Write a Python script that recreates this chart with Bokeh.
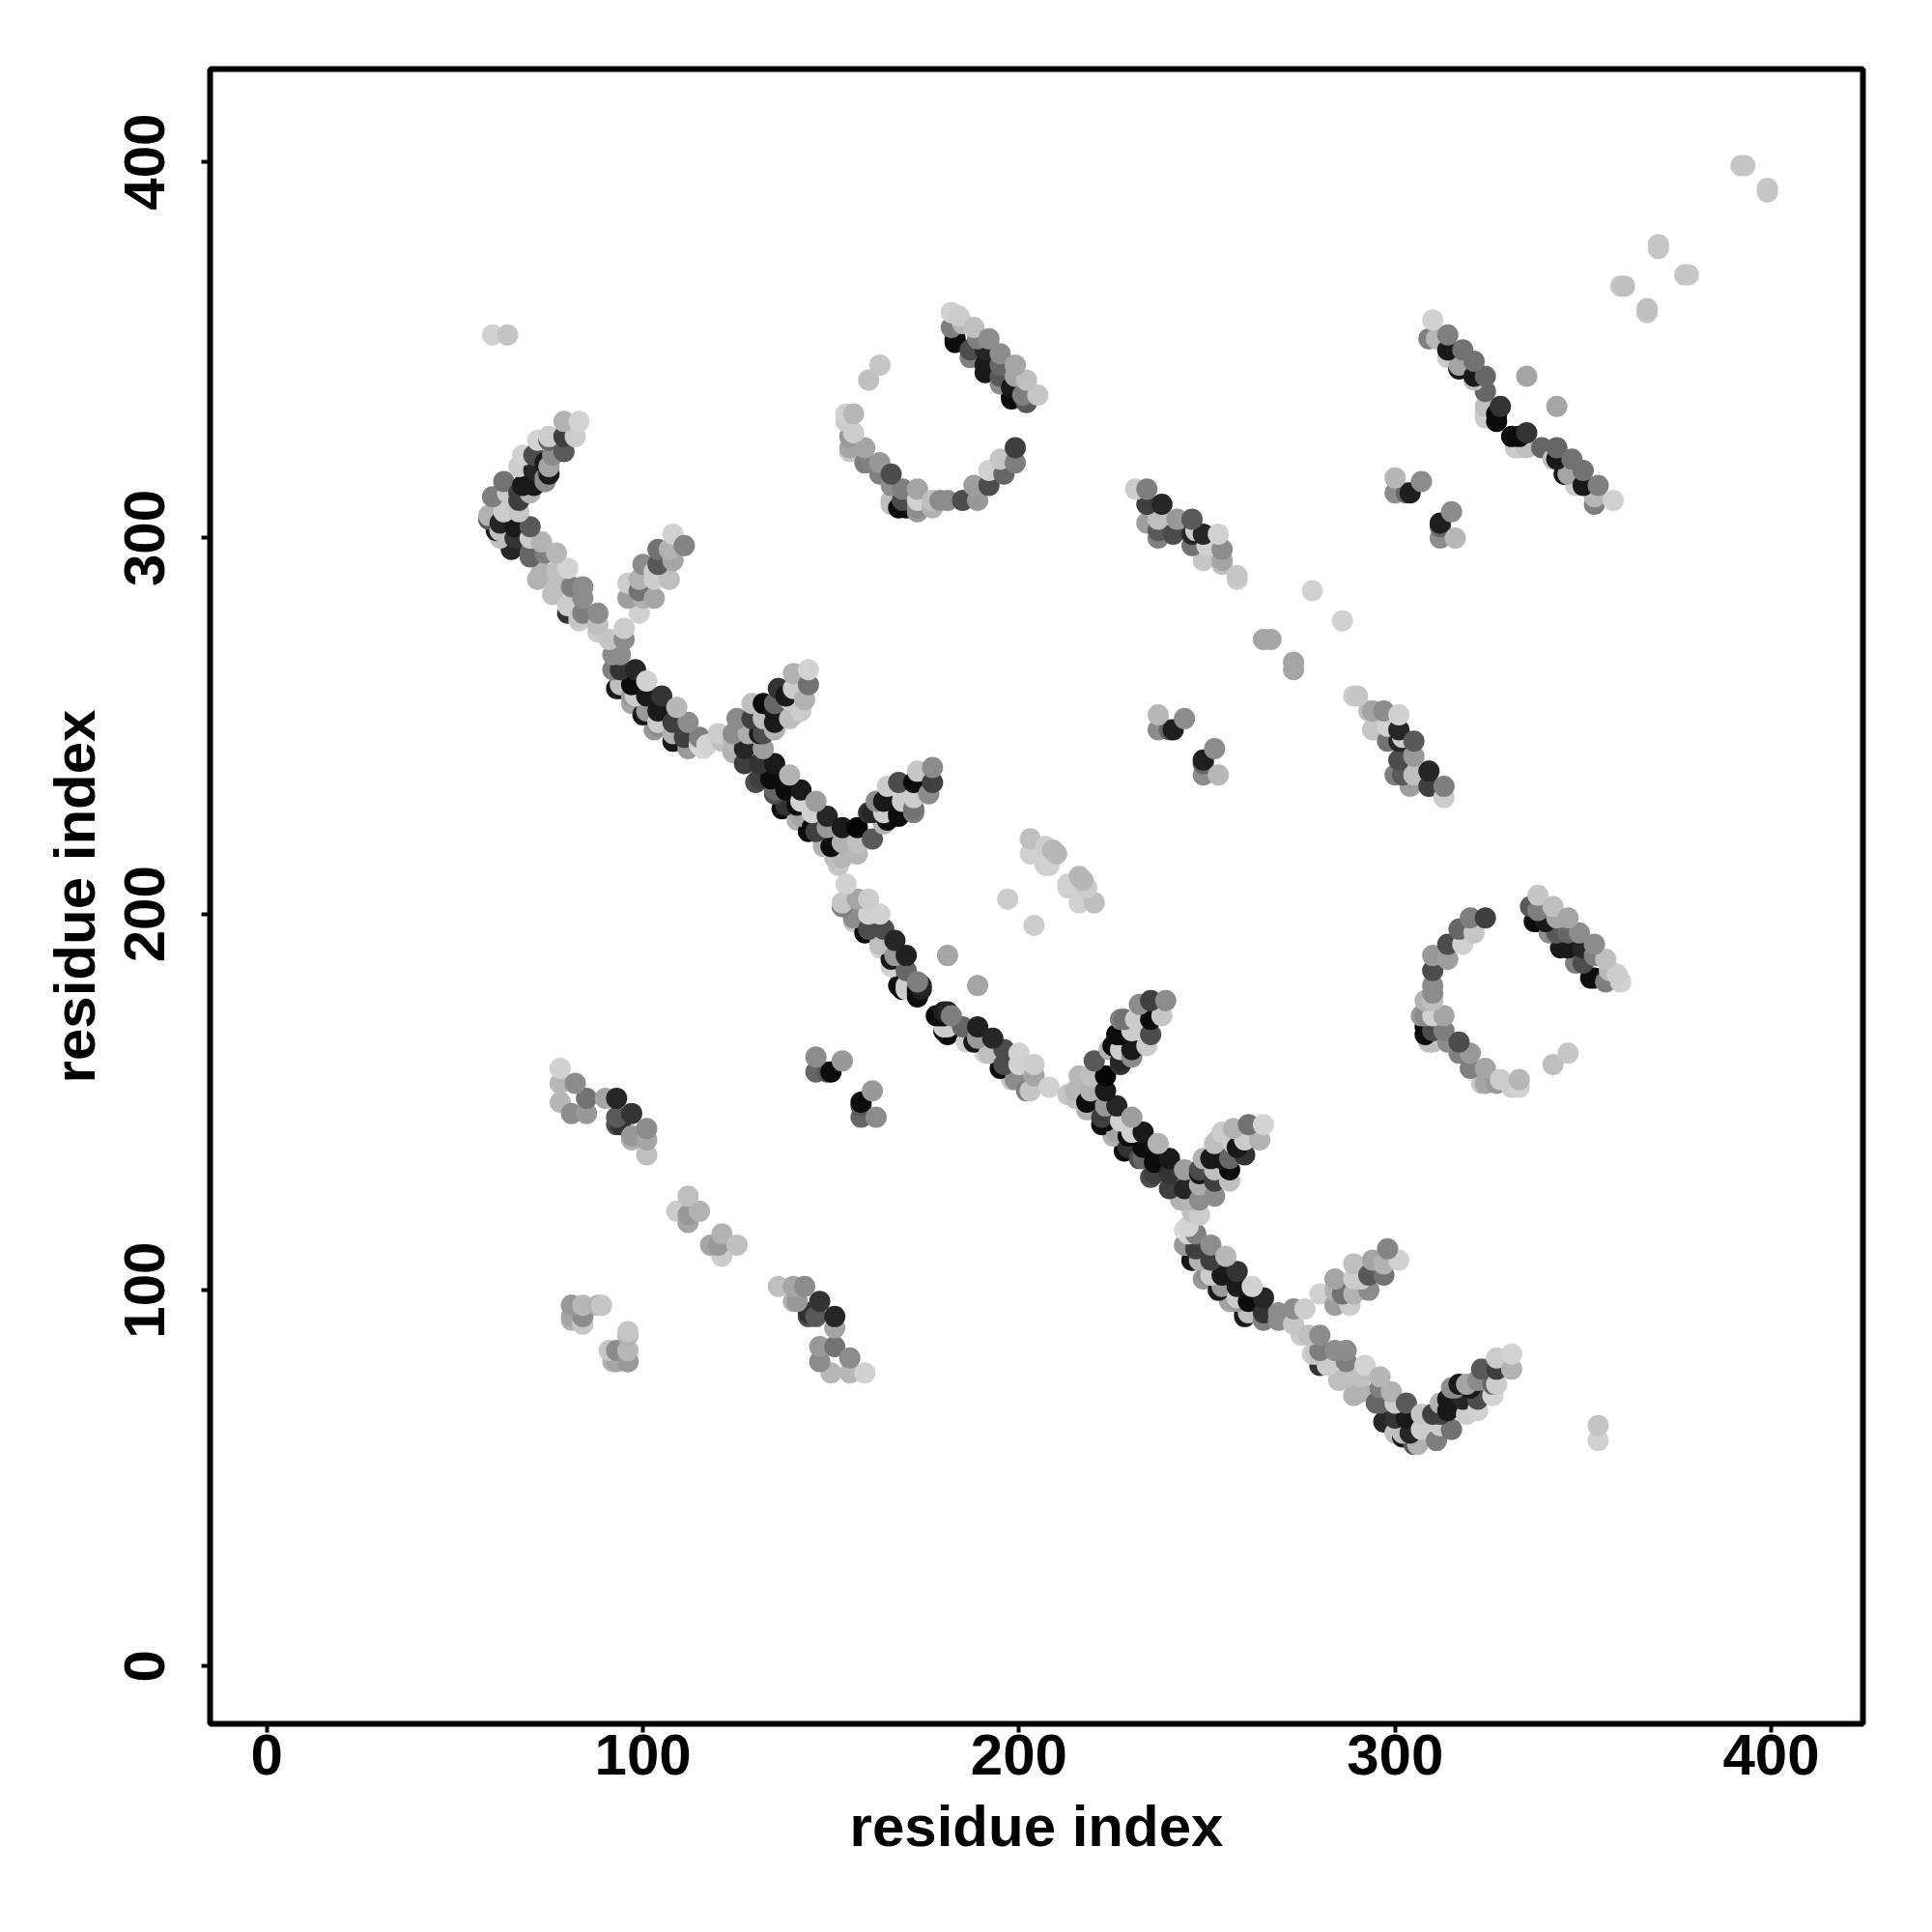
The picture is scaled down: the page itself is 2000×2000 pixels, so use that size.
from bokeh.plotting import figure
from bokeh.models import ColumnDataSource, Range1d, FixedTicker
from bokeh.embed import file_html
from bokeh.resources import INLINE
import numpy as np

# contacts as (residue i, residue j, gray level); the map is symmetric
isolated = [(60,354,.82),(64,354,.77),(181,189,.65),(197,204,.8),(278,286,.82),(265,273,.65),(267,273,.65),
            (335,343,.65),(360,367,.78),(361,367,.75),(370,378,.78),(370,377,.78),(392,399,.78),(393,399,.78),(163,346,.78),(160,342,.75)]
branch_a = [(83,331,.83),(79,331,.7),(82,327,.8),(79,327,.25),(79,323,.35),(75,326,.4),(72,326,.83),(75,327,.8),(76,322,.55),
            (74,320,.1),(71,322,.3),(68,322,.82),(75,319,.65),(75,317,.1),(74,316,.55),(71,318,.15),(71,315,.1),(67,319,.8),
            (70,312,.7),(68,314,.1),(67,312,.25),(63,315,.45),(64,312,.8),(60,311,.5),(67,307,.78),(63,307,.8),(59,306,.7),(59,305,.35)]
strand_a = [(70,303,.35),(66,303,.1),(66,300,.2),(62,302,.75),(62,304,.15),(70,300,.8),(70,296,.4),(73,299,.7),(74,296,.5),
            (77,296,.72),(73,291,.7),(77,291,.75),(80,292,.83),(77,287,.75),(81,287,.5),(84,287,.55),(84,284,.55),(80,282,.8),
            (84,280,.5),(83,279,.78),(88,280,.55),(88,277,.75)]
branch_b = [(108,301,.82),(111,298,.52),(107,297,.7),(104,297,.45),(108,294,.65),(104,293,.35),(100,293,.55),(103,291,.8),
            (107,289,.75),(103,289,.8),(96,288,.8),(99,289,.7),(103,284,.65),(100,284,.7),(99,286,.45),(96,284,.62),(99,280,.82)]
strand_b = [(95,276,.8),(95,273,.55),(91,273,.78),(92,269,.55),(94,269,.55),(92,265,.5),(94,265,.2),(98,265,.15),(101,262,.82),
            (94,261,.75),(94,260,.1),(97,261,.05),(97,258,.6),(98,258,.8),(101,258,.1),(105,258,.2),(104,254,.1),(101,254,.6),
            (104,251,.8),(104,250,.55),(109,255,.72),(108,251,.25),(112,251,.55),(108,248,.7),(108,246,.1),(111,247,.25),(112,245,.6),
            (115,247,.5),(117,245,.83),(115,245,.83),(120,248,.8),(121,246,.75),(124,243,.7),(124,246,.72),(124,248,.55)]
branch_c = [(125,252,.55),(129,252,.25),(129,256,.75),(128,248,.68),(132,252,.75),(132,248,.3),(135,249,.7),(132,256,.05),(135,254,.1),
            (136,260,.2),(135,256,.4),(139,257,.8),(140,253,.75),(136,252,.1),(140,260,.8),(140,264,.7),(144,261,.45),(144,265,.83),
            (143,257,.7),(138,258,.1)]
strand_c = [(127,244,.15),(132,244,.62),(127,240,.25),(131,240,.2),(135,240,.1),(131,236,.25),(134,236,.05),(139,237,.7),(135,233,.4),
            (138,233,.05),(142,233,.1),(138,229,.2),(142,230,.82),(146,230,.62),(141,229,.05),(142,226,.65),(145,227,.82),(149,226,.15),
            (145,223,.05),(149,223,.6),(153,223,.1),(157,223,.02),(148,219,.7),(146,222,.25),(153,219,.7),(157,216,.72),(157,219,.75),(153,215,.72)]
branch_d = [(161,220,.35),(164,224,.7),(161,227,.15),(162,230,.55),(164,227,.8),(165,234,.8),(164,230,.1),(168,227,.05),(168,235,.3),
            (172,228,.45),(172,235,.05),(173,238,.78),(172,231,.8),(176,232,.55),(177,239,.55),(177,235,.25),(169,230,.8)]
strand_d = [(154,208,.82),(153,203,.78),(157,204,.65),(160,204,.8),(156,199,.55),(160,200,.82),(163,200,.82),(160,196,.3),(164,196,.3),
            (163,192,.75),(167,193,.15),(167,189,.6),(170,189,.13),(166,186,.82),(170,185,.4),(170,181,.8),(168,181,.05),(174,181,.15),
            (173,180,.05),(173,182,.5),(180,174,.12),(179,173,.05),(180,170,.82),(180,169,.05)]
patch_a = [(203,220,.75),(203,216,.82),(207,218,.8),(209,217,.72),(207,214,.8),(210,216,.72),(207,213,.82),(204,217,.82),(208,213,.82)]
arc_a = [(154,333,.82),(156,333,.72),(154,331,.8),(155,327,.6),(156,328,.8),(155,323,.78),(155,324,.65),(159,324,.65),(159,320,.5),
         (163,320,.6),(163,317,.5),(166,317,.3),(166,314,.55),(166,310,.75),(169,313,.5),(169,310,.3),(170,308,.05),(173,313,.65),
         (173,310,.82),(173,308,.55),(177,310,.75),(177,308,.7),(179,310,.55),(181,310,.55),(185,310,.3),(189,310,.6),(188,314,.62),
         (192,314,.3),(192,318,.82),(196,317,.4),(195,321,.78),(199,320,.5),(199,324,.25)]
strand_e = [(182,360,.82),(184,359,.8),(182,356,.5),(185,357,.72),(188,356,.75),(183,353,.05),(189,353,.5),(192,353,.55),(187,350,.3),
            (191,350,.15),(195,349,.55),(191,346,.1),(195,346,.4),(199,346,.65),(195,343,.35),(199,343,.65),(202,342,.75),(198,340,.1),
            (198,338,.05),(201,338,.5),(202,336,.35),(205,338,.78)]
strand_f = [(231,313,.8),(234,313,.5),(234,309,.25),(238,309,.15),(234,304,.62),(237,305,.75),(237,302,.35),(237,300,.5),(241,301,.3),
            (242,305,.6),(246,305,.35),(246,298,.45),(247,302,.8),(249,301,.15),(246,301,.15),(253,301,.82),(250,298,.82),(254,297,.55),
            (249,294,.78),(254,294,.65),(254,293,.75),(258,290,.78),(258,289,.8)]
patch_b = [(237,253,.72),(244,252,.55),(237,249,.55),(240,249,.4),(241,249,.12)]
patch_c = [(300,316,.72),(307,315,.55),(300,312,.55),(303,312,.4),(304,312,.12)]
strand_g = [(310,358,.82),(311,353,.72),(309,353,.5),(314,354,.5),(314,350,.1),(318,350,.45),(317,346,.65),(321,347,.45),(317,345,.1),
            (321,343,.1),(324,343,.4),(324,339,.4),(324,335,.75),(324,333,.8),(328,335,.2),(327,333,.05)]
patch_d = [(81,96,.65),(84,96,.72),(89,96,.78),(81,93,.65),(84,93,.55),(84,91,.78),(81,92,.7),(88,96,.7),(81,96,.6)]
strand_h = [(78,159,.82),(78,155,.72),(82,155,.55),(78,150,.72),(81,147,.55),(85,151,.45),(85,147,.6),(90,151,.65),(93,151,.15),
            (93,146,.35),(94,144,.2),(97,147,.2),(97,141,.6),(101,143,.55),(101,140,.65),(101,136,.75),(97,140,.7),(93,144,.3)]
patch_e = [(109,121,.8),(112,125,.75),(112,120,.6),(115,121,.7),(112,118,.65)]
patch_f = [(146,162,.55),(153,161,.6),(146,158,.4),(149,158,.35),(150,158,.05)]
rim_a = [(65,297,.15),(70,295,.4),(72,289,.7),(76,285,.75),(80,280,.2),(83,278,.8),(88,275,.8),(62,300,.75),(61,302,.1),(67,310,.25),(71,314,.1),(74,315,.55)]
rim_b = [(93,260,.1),(97,256,.65),(100,253,.1),(103,249,.6),(108,246,.1),(112,244,.6),(116,244,.85)]
rim_c = [(131,248,.1),(135,251,.1),(139,252,.75),(142,254,.8),(160,227,.2),(165,225,.05),(168,226,.05),(172,227,.5),
         (130,235,.3),(135,232,.3),(137,228,.05),(141,225,.7),(144,222,.05),(148,218,.7),(151,215,.75),(152,213,.78),(150,218,.05)]
rim_d = [(183,352,.05),(187,348,.5),(191,344,.1),(195,341,.55),(198,337,.05),(166,309,.75),(168,308,.05),(173,307,.6),
         (153,202,.5),(156,198,.78),(159,195,.05),(163,191,.82),(166,188,.1),(173,178,.05),
         (314,348,.8),(317,345,.1),(321,342,.75),(324,332,.8),(327,331,.05)]

groups = [isolated,branch_a,strand_a,branch_b,strand_b,branch_c,strand_c,branch_d,strand_d,patch_a,arc_a,strand_e,
          strand_f,patch_b,patch_c,strand_g,patch_d,strand_h,patch_e,patch_f,rim_a,rim_b,rim_c,rim_d]
ticks = [0, 100, 200, 300, 400]

rows = np.array([t for g in groups for t in g], dtype=float)
x = np.concatenate([rows[:,0], rows[:,1]])
y = np.concatenate([rows[:,1], rows[:,0]])
lev = np.concatenate([rows[:,2], rows[:,2]])
order = np.argsort(x + y, kind="stable")
x, y, lev = x[order], y[order], lev[order]
cols = ["#" + ("%02x" % int(v*255))*3 for v in lev]

p = figure(width=1960, height=1954, output_backend="svg", toolbar_location=None,
           x_range=Range1d(-15.1, 424.4), y_range=Range1d(-15.3, 424.7),
           min_border_left=217, min_border_top=71, min_border_right=32, min_border_bottom=170,
           background_fill_color="white", border_fill_color="white")
p.grid.visible = False
p.outline_line_color = "black"
p.outline_line_width = 6
p.scatter(x="x", y="y", color="c", size=22, line_color=None, fill_alpha=1,
          source=ColumnDataSource(dict(x=x, y=y, c=cols)))

for ax in (p.xaxis[0], p.yaxis[0]):
    ax.ticker = FixedTicker(ticks=ticks)
    ax.axis_label = "residue index"
    ax.axis_line_color = None
    ax.major_tick_line_color = "black"
    ax.major_tick_line_width = 4
    ax.major_tick_in = 0
    ax.major_tick_out = 9
    ax.minor_tick_line_color = None
    ax.major_label_text_font = "Liberation Sans"
    ax.major_label_text_font_style = "bold"
    ax.major_label_text_font_size = "60px"
    ax.major_label_text_color = "black"
    ax.axis_label_text_font = "Liberation Sans"
    ax.axis_label_text_font_style = "bold"
    ax.axis_label_text_font_size = "60px"
    ax.axis_label_text_color = "black"
p.xaxis[0].major_label_standoff = 2
p.xaxis[0].axis_label_standoff = 17
p.yaxis[0].major_label_standoff = 38
p.yaxis[0].major_label_orientation = "parallel"
p.yaxis[0].axis_label_standoff = 16

open("out.html", "w").write(file_html(p, INLINE))
